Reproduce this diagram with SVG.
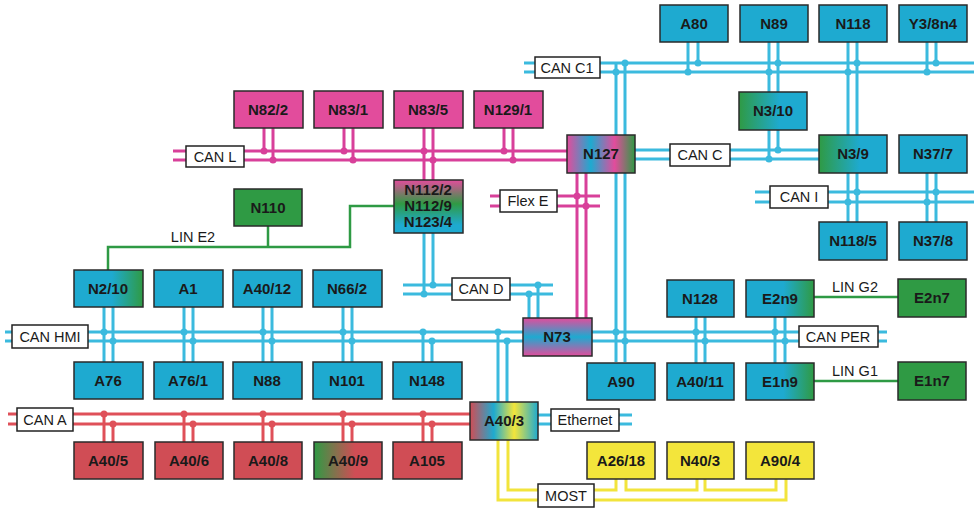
<svg xmlns="http://www.w3.org/2000/svg" width="974" height="523" viewBox="0 0 974 523">
<style>
.n{stroke:#2a2a2a;stroke-width:1.5}
.t{font-family:"Liberation Sans",Arial,sans-serif;font-weight:bold;font-size:15px;fill:#1a1a1a;text-anchor:middle}
.l{font-family:"Liberation Sans",Arial,sans-serif;font-size:14.5px;fill:#1a1a1a;text-anchor:middle}
.lb{fill:#fff;stroke:#222;stroke-width:1.5}
.b{fill:#1eaad0}.p{fill:#e24c9c}.r{fill:#d04d55}.y{fill:#f3e53b}.g{fill:#2f9a44}
.cb{stroke:#3bbade;stroke-width:3;fill:none}
.cp{stroke:#d8409a;stroke-width:3;fill:none}
.cr{stroke:#df5059;stroke-width:3;fill:none}
.cy{stroke:#f2e43c;stroke-width:3;fill:none}
.cg{stroke:#2e9a44;stroke-width:2.5;fill:none}
.db{fill:#3bbade}.dp{fill:#d8409a}.dr{fill:#df5059}
</style>
<defs>
<linearGradient id="gBG" x1="0" y1="0" x2="1" y2="0"><stop offset="0.55" stop-color="#1eaad0"/><stop offset="1" stop-color="#2f9a44"/></linearGradient>
<linearGradient id="gGB" x1="0" y1="0" x2="1" y2="0"><stop offset="0" stop-color="#2f9a44"/><stop offset="0.6" stop-color="#1eaad0"/></linearGradient>
<linearGradient id="gGR" x1="0" y1="0" x2="1" y2="0"><stop offset="0" stop-color="#2f9a44"/><stop offset="0.6" stop-color="#d04d55"/></linearGradient>
<linearGradient id="g127" x1="0" y1="0" x2="1" y2="0"><stop offset="0" stop-color="#e24c9c"/><stop offset="0.35" stop-color="#1eaad0"/><stop offset="0.7" stop-color="#e24c9c"/><stop offset="1" stop-color="#2f9a44"/></linearGradient>
<linearGradient id="g73" x1="0" y1="0" x2="0" y2="1"><stop offset="0" stop-color="#e24c9c"/><stop offset="0.5" stop-color="#1eaad0"/><stop offset="1" stop-color="#e24c9c"/></linearGradient>
<linearGradient id="g112" x1="0" y1="0" x2="0" y2="1"><stop offset="0" stop-color="#e24c9c"/><stop offset="0.45" stop-color="#2f9a44"/><stop offset="0.85" stop-color="#1eaad0"/></linearGradient>
<linearGradient id="g403" x1="0" y1="0" x2="1" y2="0"><stop offset="0" stop-color="#d04d55"/><stop offset="0.35" stop-color="#1eaad0"/><stop offset="0.65" stop-color="#f3e53b"/><stop offset="1" stop-color="#1eaad0"/></linearGradient>
</defs>
<g id="connectors">
<path class="cb" d="M524 63H974M524 72H974"/>
<path class="cb" d="M616 63V362M625 63V362"/>
<path class="cb" d="M688 42V72M698 42V63M769 42V92M778 42V92M769 130V159M778 130V150M848 42V135M857 42V135M927 42V72M936 42V63"/>
<path class="cb" d="M635 150H819M635 159H819"/>
<path class="cb" d="M755 192H974M755 202H974M848 173V222M857 173V222M927 173V222M936 173V222"/>
<path class="cp" d="M173 151H567M173 160H567"/>
<path class="cp" d="M264 128V151M273 128V160M344 128V151M353 128V160M424 128V180M433 128V180M504 128V151M513 128V160"/>
<path class="cp" d="M577 173V318M586 173V318M490 196H600M490 206H600"/>
<path class="cb" d="M424 233V294M433 233V285M403 285H553M403 294H553M529 294V318M538 285V318"/>
<path class="cg" d="M108 270V247H350V206H394M268 226V247"/>
<path class="cb" d="M5 332H523M5 341H523M592 332H887M592 341H887"/>
<path class="cb" d="M104 307V362M113 307V362M184 307V362M193 307V362M263 307V362M272 307V362M343 307V362M352 307V362M423 332V362M432 341V362M498 332V402M507 341V402"/>
<path class="cb" d="M696 317V363M705 317V363M775 317V363M785 317V363"/>
<path class="cg" d="M814 297H898M814 381H898"/>
<path class="cb" d="M538 415H632M538 424H632"/>
<path class="cr" d="M8 414H470M8 424H470"/>
<path class="cr" d="M104 414V442M113 424V442M184 414V442M193 424V442M263 414V442M272 424V442M343 414V442M352 424V442M423 414V442M432 424V442"/>
<path class="cy" d="M498 440V500H786V479M508 440V490H616V479M626 479V490H697V479M705 479V490H776V479"/>
<g class="db">
<circle cx="616" cy="72" r="3.5"/><circle cx="625" cy="63" r="3.5"/>
<circle cx="688" cy="72" r="3.5"/><circle cx="698" cy="63" r="3.5"/>
<circle cx="769" cy="72" r="3.5"/><circle cx="778" cy="63" r="3.5"/>
<circle cx="769" cy="159" r="3.5"/><circle cx="778" cy="150" r="3.5"/>
<circle cx="848" cy="72" r="3.5"/><circle cx="857" cy="63" r="3.5"/>
<circle cx="927" cy="72" r="3.5"/><circle cx="936" cy="63" r="3.5"/>
<circle cx="848" cy="202" r="3.5"/><circle cx="857" cy="192" r="3.5"/>
<circle cx="927" cy="202" r="3.5"/><circle cx="936" cy="192" r="3.5"/>
<circle cx="424" cy="294" r="3.5"/><circle cx="433" cy="285" r="3.5"/>
<circle cx="529" cy="294" r="3.5"/><circle cx="538" cy="285" r="3.5"/>
<circle cx="104" cy="332" r="3.5"/><circle cx="113" cy="341" r="3.5"/>
<circle cx="184" cy="332" r="3.5"/><circle cx="193" cy="341" r="3.5"/>
<circle cx="263" cy="332" r="3.5"/><circle cx="272" cy="341" r="3.5"/>
<circle cx="343" cy="332" r="3.5"/><circle cx="352" cy="341" r="3.5"/>
<circle cx="423" cy="332" r="3.5"/><circle cx="432" cy="341" r="3.5"/>
<circle cx="498" cy="332" r="3.5"/><circle cx="507" cy="341" r="3.5"/>
<circle cx="616" cy="332" r="3.5"/><circle cx="625" cy="341" r="3.5"/>
<circle cx="696" cy="332" r="3.5"/><circle cx="705" cy="341" r="3.5"/>
<circle cx="775" cy="332" r="3.5"/><circle cx="785" cy="341" r="3.5"/>
</g>
<g class="dp">
<circle cx="264" cy="151" r="3.5"/><circle cx="273" cy="160" r="3.5"/>
<circle cx="344" cy="151" r="3.5"/><circle cx="353" cy="160" r="3.5"/>
<circle cx="424" cy="151" r="3.5"/><circle cx="433" cy="160" r="3.5"/>
<circle cx="504" cy="151" r="3.5"/><circle cx="513" cy="160" r="3.5"/>
<circle cx="577" cy="196" r="3.5"/><circle cx="586" cy="206" r="3.5"/>
</g>
<g class="dr">
<circle cx="104" cy="414" r="3.5"/><circle cx="113" cy="424" r="3.5"/>
<circle cx="184" cy="414" r="3.5"/><circle cx="193" cy="424" r="3.5"/>
<circle cx="263" cy="414" r="3.5"/><circle cx="272" cy="424" r="3.5"/>
<circle cx="343" cy="414" r="3.5"/><circle cx="352" cy="424" r="3.5"/>
<circle cx="423" cy="414" r="3.5"/><circle cx="432" cy="424" r="3.5"/>
</g>
</g>
<g id="labels">
<rect class="lb" x="535" y="57" width="65" height="21"/><text class="l" x="567" y="73">CAN C1</text>
<rect class="lb" x="670" y="144" width="60" height="22"/><text class="l" x="700" y="160">CAN C</text>
<rect class="lb" x="770" y="186" width="58" height="22"/><text class="l" x="799" y="202">CAN I</text>
<rect class="lb" x="186" y="146" width="58" height="21"/><text class="l" x="215" y="162">CAN L</text>
<rect class="lb" x="500" y="190" width="57" height="22"/><text class="l" x="528" y="206">Flex E</text>
<rect class="lb" x="452" y="278" width="58" height="22"/><text class="l" x="481" y="294">CAN D</text>
<rect class="lb" x="12" y="325" width="76" height="23"/><text class="l" x="50" y="342">CAN HMI</text>
<rect class="lb" x="799" y="326" width="79" height="21"/><text class="l" x="838" y="342">CAN PER</text>
<rect class="lb" x="551" y="409" width="68" height="22"/><text class="l" x="585" y="425">Ethernet</text>
<rect class="lb" x="17" y="408" width="56" height="23"/><text class="l" x="45" y="425">CAN A</text>
<rect class="lb" x="538" y="484" width="56" height="23"/><text class="l" x="566" y="501">MOST</text>
<text class="l" x="193" y="242">LIN E2</text>
<text class="l" x="855" y="292">LIN G2</text>
<text class="l" x="855" y="376">LIN G1</text>
</g>
<g id="A80"><rect class="n b" x="660" y="5" width="68" height="37"/><text class="t" x="694" y="29">A80</text></g>
<g id="N89"><rect class="n b" x="740" y="5" width="68" height="37"/><text class="t" x="774" y="29">N89</text></g>
<g id="N118"><rect class="n b" x="819" y="5" width="68" height="37"/><text class="t" x="853" y="29">N118</text></g>
<g id="Y3-8n4"><rect class="n b" x="899" y="5" width="68" height="37"/><text class="t" x="933" y="29">Y3/8n4</text></g>
<g id="N3-10"><rect class="n" fill="url(#gGB)" x="739" y="92" width="68" height="38"/><text class="t" x="773" y="116">N3/10</text></g>
<g id="N127"><rect class="n" fill="url(#g127)" x="567" y="135" width="68" height="38"/><text class="t" x="601" y="159">N127</text></g>
<g id="N3-9"><rect class="n" fill="url(#gGB)" x="819" y="135" width="68" height="38"/><text class="t" x="853" y="159">N3/9</text></g>
<g id="N37-7"><rect class="n b" x="899" y="135" width="68" height="38"/><text class="t" x="933" y="159">N37/7</text></g>
<g id="N118-5"><rect class="n b" x="819" y="222" width="68" height="38"/><text class="t" x="853" y="246">N118/5</text></g>
<g id="N37-8"><rect class="n b" x="899" y="222" width="68" height="38"/><text class="t" x="933" y="246">N37/8</text></g>
<g id="N82-2"><rect class="n p" x="234" y="91" width="69" height="37"/><text class="t" x="268" y="115">N82/2</text></g>
<g id="N83-1"><rect class="n p" x="314" y="91" width="69" height="37"/><text class="t" x="348" y="115">N83/1</text></g>
<g id="N83-5"><rect class="n p" x="394" y="91" width="69" height="37"/><text class="t" x="428" y="115">N83/5</text></g>
<g id="N129-1"><rect class="n p" x="474" y="91" width="69" height="37"/><text class="t" x="508" y="115">N129/1</text></g>
<g id="N112"><rect class="n" fill="url(#g112)" x="394" y="180" width="69" height="53"/><text class="t" x="428" y="195">N112/2</text><text class="t" x="428" y="211">N112/9</text><text class="t" x="428" y="227">N123/4</text></g>
<g id="N110"><rect class="n g" x="234" y="189" width="68" height="37"/><text class="t" x="268" y="213">N110</text></g>
<g id="N2-10"><rect class="n" fill="url(#gBG)" x="74" y="270" width="69" height="37"/><text class="t" x="108" y="294">N2/10</text></g>
<g id="A1"><rect class="n b" x="154" y="270" width="69" height="37"/><text class="t" x="188" y="294">A1</text></g>
<g id="A40-12"><rect class="n b" x="233" y="270" width="69" height="37"/><text class="t" x="267" y="294">A40/12</text></g>
<g id="N66-2"><rect class="n b" x="313" y="270" width="69" height="37"/><text class="t" x="347" y="294">N66/2</text></g>
<g id="N73"><rect class="n" fill="url(#g73)" x="523" y="318" width="69" height="38"/><text class="t" x="557" y="342">N73</text></g>
<g id="N128"><rect class="n b" x="667" y="280" width="67" height="37"/><text class="t" x="700" y="304">N128</text></g>
<g id="E2n9"><rect class="n" fill="url(#gBG)" x="746" y="280" width="68" height="37"/><text class="t" x="780" y="304">E2n9</text></g>
<g id="E2n7"><rect class="n g" x="898" y="279" width="68" height="38"/><text class="t" x="932" y="303">E2n7</text></g>
<g id="A76"><rect class="n b" x="74" y="362" width="69" height="37"/><text class="t" x="108" y="386">A76</text></g>
<g id="A76-1"><rect class="n b" x="154" y="362" width="69" height="37"/><text class="t" x="188" y="386">A76/1</text></g>
<g id="N88"><rect class="n b" x="233" y="362" width="69" height="37"/><text class="t" x="267" y="386">N88</text></g>
<g id="N101"><rect class="n b" x="313" y="362" width="69" height="37"/><text class="t" x="347" y="386">N101</text></g>
<g id="N148"><rect class="n b" x="393" y="362" width="69" height="37"/><text class="t" x="427" y="386">N148</text></g>
<g id="A90"><rect class="n b" x="587" y="363" width="68" height="37"/><text class="t" x="621" y="387">A90</text></g>
<g id="A40-11"><rect class="n b" x="667" y="363" width="67" height="37"/><text class="t" x="700" y="387">A40/11</text></g>
<g id="E1n9"><rect class="n" fill="url(#gBG)" x="746" y="363" width="68" height="37"/><text class="t" x="780" y="387">E1n9</text></g>
<g id="E1n7"><rect class="n g" x="898" y="362" width="68" height="38"/><text class="t" x="932" y="386">E1n7</text></g>
<g id="A40-3"><rect class="n" fill="url(#g403)" x="470" y="402" width="68" height="38"/><text class="t" x="504" y="426">A40/3</text></g>
<g id="A40-5"><rect class="n r" x="74" y="442" width="69" height="37"/><text class="t" x="108" y="466">A40/5</text></g>
<g id="A40-6"><rect class="n r" x="155" y="442" width="68" height="37"/><text class="t" x="189" y="466">A40/6</text></g>
<g id="A40-8"><rect class="n r" x="234" y="442" width="68" height="37"/><text class="t" x="268" y="466">A40/8</text></g>
<g id="A40-9"><rect class="n" fill="url(#gGR)" x="314" y="442" width="68" height="37"/><text class="t" x="348" y="466">A40/9</text></g>
<g id="A105"><rect class="n r" x="393" y="442" width="69" height="37"/><text class="t" x="427" y="466">A105</text></g>
<g id="A26-18"><rect class="n y" x="587" y="442" width="68" height="37"/><text class="t" x="621" y="466">A26/18</text></g>
<g id="N40-3"><rect class="n y" x="667" y="442" width="67" height="37"/><text class="t" x="700" y="466">N40/3</text></g>
<g id="A90-4"><rect class="n y" x="746" y="442" width="68" height="37"/><text class="t" x="780" y="466">A90/4</text></g>
</svg>
